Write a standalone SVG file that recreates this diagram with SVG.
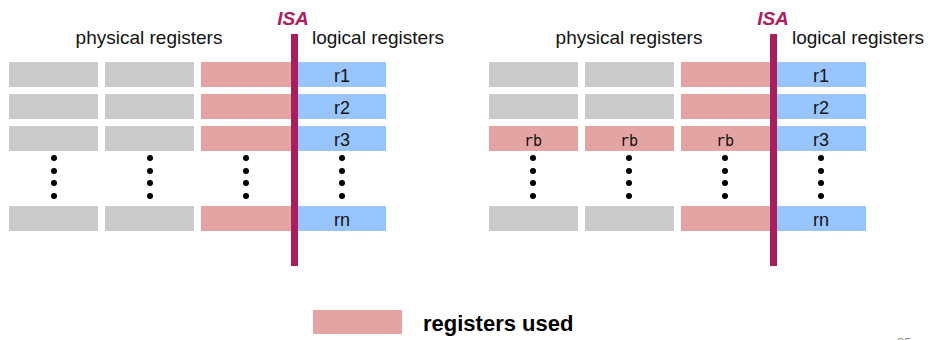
<svg xmlns="http://www.w3.org/2000/svg" width="929" height="340" viewBox="0 0 929 340">
  <style>
    .free { fill: #cbcbcb; }
    .used { fill: #e4a4a4; }
    .logical { fill: #99c5ff; }
    .isa-bar { fill: #a81f5c; }
    .isa-label { font-family: "Liberation Sans", Arial, sans-serif; font-weight: bold; font-style: italic; font-size: 19px; fill: #a81f5c; text-anchor: middle; }
    .header { font-family: "Liberation Sans", Arial, sans-serif; font-size: 19px; fill: #111; text-anchor: middle; }
    .reg { font-family: "Liberation Sans", Arial, sans-serif; font-size: 18px; fill: #111; text-anchor: middle; }
    .mono { font-family: "DejaVu Sans Mono", "Liberation Mono", monospace; font-size: 15px; fill: #111; text-anchor: middle; }
    .legend { font-family: "Liberation Sans", Arial, sans-serif; font-weight: bold; font-size: 22px; fill: #000; }
    .page { font-family: "Liberation Sans", Arial, sans-serif; font-size: 13px; fill: #8a8a8a; }
  </style>
  <defs>
    <g id="dots">
      <circle cx="0" cy="158" r="3"/>
      <circle cx="0" cy="171" r="3"/>
      <circle cx="0" cy="183" r="3"/>
      <circle cx="0" cy="196" r="3"/>
    </g>
  </defs>

  <!-- Left panel: rename table without branch copies -->
  <g id="left-panel">
    <text class="header" x="149" y="44">physical registers</text>
    <text class="header" x="378" y="44">logical registers</text>

    <g id="L-row1">
      <rect class="free" x="9" y="62" width="89" height="25"/>
      <rect class="free" x="105" y="62" width="89" height="25"/>
      <rect class="used" x="201" y="62" width="94" height="25"/>
      <rect class="logical" x="295" y="62" width="91" height="25"/>
      <text class="reg" x="342" y="82">r1</text>
    </g>
    <g id="L-row2">
      <rect class="free" x="9" y="94" width="89" height="25"/>
      <rect class="free" x="105" y="94" width="89" height="25"/>
      <rect class="used" x="201" y="94" width="94" height="25"/>
      <rect class="logical" x="295" y="94" width="91" height="25"/>
      <text class="reg" x="342" y="114">r2</text>
    </g>
    <g id="L-row3">
      <rect class="free" x="9" y="126" width="89" height="25"/>
      <rect class="free" x="105" y="126" width="89" height="25"/>
      <rect class="used" x="201" y="126" width="94" height="25"/>
      <rect class="logical" x="295" y="126" width="91" height="25"/>
      <text class="reg" x="342" y="146">r3</text>
    </g>
    <g id="L-ellipsis" fill="#000">
      <use href="#dots" x="54"/>
      <use href="#dots" x="150"/>
      <use href="#dots" x="246"/>
      <use href="#dots" x="342"/>
    </g>
    <g id="L-rown">
      <rect class="free" x="9" y="206" width="89" height="25"/>
      <rect class="free" x="105" y="206" width="89" height="25"/>
      <rect class="used" x="201" y="206" width="94" height="25"/>
      <rect class="logical" x="295" y="206" width="91" height="25"/>
      <text class="reg" x="342" y="226">rn</text>
    </g>
    <g id="L-isa">
      <rect class="isa-bar" x="291" y="34" width="7" height="232"/>
      <text class="isa-label" x="293" y="25">ISA</text>
    </g>
  </g>

  <!-- Right panel: rename table with branch copies (rb) -->
  <g id="right-panel">
    <text class="header" x="629" y="44">physical registers</text>
    <text class="header" x="858" y="44">logical registers</text>

    <g id="R-row1">
      <rect class="free" x="489" y="62" width="89" height="25"/>
      <rect class="free" x="585" y="62" width="89" height="25"/>
      <rect class="used" x="681" y="62" width="93" height="25"/>
      <rect class="logical" x="774" y="62" width="92" height="25"/>
      <text class="reg" x="821" y="82">r1</text>
    </g>
    <g id="R-row2">
      <rect class="free" x="489" y="94" width="89" height="25"/>
      <rect class="free" x="585" y="94" width="89" height="25"/>
      <rect class="used" x="681" y="94" width="93" height="25"/>
      <rect class="logical" x="774" y="94" width="92" height="25"/>
      <text class="reg" x="821" y="114">r2</text>
    </g>
    <g id="R-row3">
      <rect class="used" x="489" y="126" width="89" height="25"/>
      <text class="mono" x="533" y="146">rb</text>
      <rect class="used" x="585" y="126" width="89" height="25"/>
      <text class="mono" x="629" y="146">rb</text>
      <rect class="used" x="681" y="126" width="93" height="25"/>
      <text class="mono" x="725" y="146">rb</text>
      <rect class="logical" x="774" y="126" width="92" height="25"/>
      <text class="reg" x="821" y="146">r3</text>
    </g>
    <g id="R-ellipsis" fill="#000">
      <use href="#dots" x="533"/>
      <use href="#dots" x="629"/>
      <use href="#dots" x="725"/>
      <use href="#dots" x="821"/>
    </g>
    <g id="R-rown">
      <rect class="free" x="489" y="206" width="89" height="25"/>
      <rect class="free" x="585" y="206" width="89" height="25"/>
      <rect class="used" x="681" y="206" width="93" height="25"/>
      <rect class="logical" x="774" y="206" width="92" height="25"/>
      <text class="reg" x="821" y="226">rn</text>
    </g>
    <g id="R-isa">
      <rect class="isa-bar" x="770" y="34" width="7" height="232"/>
      <text class="isa-label" x="773" y="25">ISA</text>
    </g>
  </g>

  <!-- Legend -->
  <g id="legend">
    <rect class="used" x="313" y="310" width="89" height="24"/>
    <text class="legend" x="423" y="331">registers used</text>
  </g>

  <!-- Page number (partially off the bottom edge) -->
  <text class="page" x="897" y="347">35</text>

  <!-- No connectors in this figure -->
  <g id="connectors"/>
</svg>
